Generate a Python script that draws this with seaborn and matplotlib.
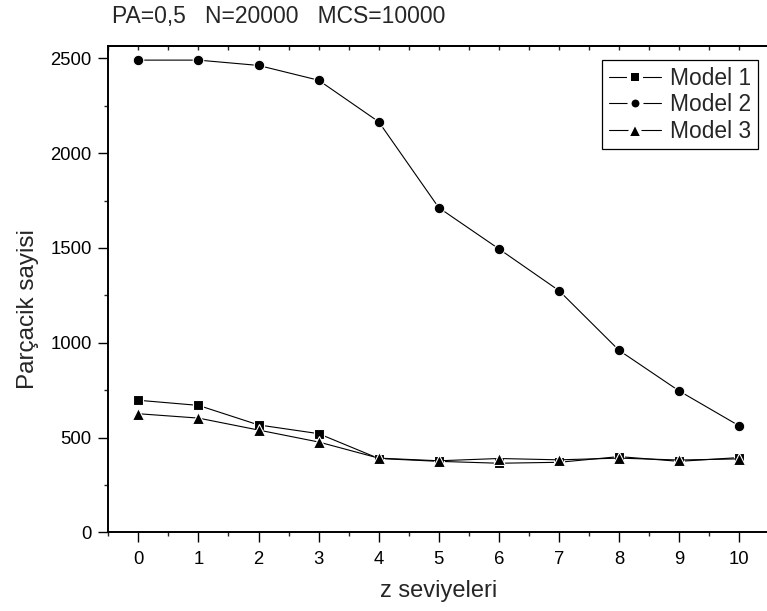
import numpy as np
import pandas as pd
import matplotlib
matplotlib.use("Agg")
import matplotlib.pyplot as plt
from matplotlib.lines import Line2D
from matplotlib.ticker import MultipleLocator
import seaborn as sns

# z levels and particle counts per model
z_levels = [0, 1, 2, 3, 4, 5, 6, 7, 8, 9, 10]
model1 = [697, 670, 567, 521, 390, 375, 365, 370, 400, 375, 395]
model2 = [2490, 2490, 2462, 2384, 2165, 1712, 1495, 1275, 960, 746, 562]
model3 = [626, 603, 540, 477, 392, 378, 390, 383, 392, 382, 388]
labels = ["Model 1", "Model 2", "Model 3"]
markers = ["s", "o", "^"]
plot_sizes = [7.2, 7.6, 8.8]
legend_sizes = [8.6, 8.6, 11.0]

sns.set_theme(style="ticks")
plt.rcParams["font.family"] = ["Liberation Sans", "DejaVu Sans"]

fig = plt.figure(figsize=(7.67, 6.11), dpi=100)
ax = fig.add_axes([0.1412, 0.1285, 0.8618, 0.7967])

for vals, mk, ms in zip([model1, model2, model3], markers, plot_sizes):
    df = pd.DataFrame({"z": z_levels, "n": vals})
    sns.lineplot(data=df, x="z", y="n", ax=ax, color="black", linewidth=0.8,
                 marker=mk, markersize=ms,
                 markeredgecolor="white", markeredgewidth=0.8, legend=False)

ax.set_xlim(-0.5, 10.5)
ax.set_ylim(0, 2566)
ax.xaxis.set_major_locator(MultipleLocator(1))
ax.xaxis.set_minor_locator(MultipleLocator(0.5))
ax.yaxis.set_major_locator(MultipleLocator(500))
ax.yaxis.set_minor_locator(MultipleLocator(250))

ax.tick_params(axis="both", which="major", direction="out", length=7, width=1,
               labelsize=13.3, colors="black")
ax.tick_params(axis="y", which="major", pad=5)
ax.tick_params(axis="x", which="major", pad=6)
ax.tick_params(axis="both", which="minor", direction="out", length=3, width=1)
for sp in ax.spines.values():
    sp.set_linewidth(1.4)
    sp.set_color("black")

# inward ticks along the top spine
top = ax.secondary_xaxis("top")
top.xaxis.set_major_locator(MultipleLocator(1))
top.xaxis.set_minor_locator(MultipleLocator(0.5))
top.tick_params(which="both", direction="in", length=3, width=1, labeltop=False)
top.spines["top"].set_linewidth(1.4)

ax.set_xlabel("z seviyeleri", fontsize=17, labelpad=9)
ax.set_ylabel("Parçacik sayisi", fontsize=17.5, labelpad=8)
ax.yaxis.label.set_y(0.459)

# legend entries: line broken around a smaller marker
handles = [Line2D([], [], color="black", linewidth=0.8, marker=mk,
                  markersize=ms, markerfacecolor="black",
                  markeredgecolor="white", markeredgewidth=2.9)
           for mk, ms in zip(markers, legend_sizes)]
leg = ax.legend(handles, labels, loc="upper right", bbox_to_anchor=(0.983, 0.9707),
                fontsize=16.4, frameon=True, fancybox=False, edgecolor="black",
                framealpha=1, handlelength=2.3, handletextpad=0.4, borderpad=0.3,
                labelspacing=0.15, borderaxespad=0)
leg.get_frame().set_linewidth(0.9)

fig.text(112 / 767, 1 - 16 / 611, "PA=0,5   N=20000   MCS=10000",
         fontsize=16.5, ha="left", va="center")

fig.savefig("out.png", dpi=100)
